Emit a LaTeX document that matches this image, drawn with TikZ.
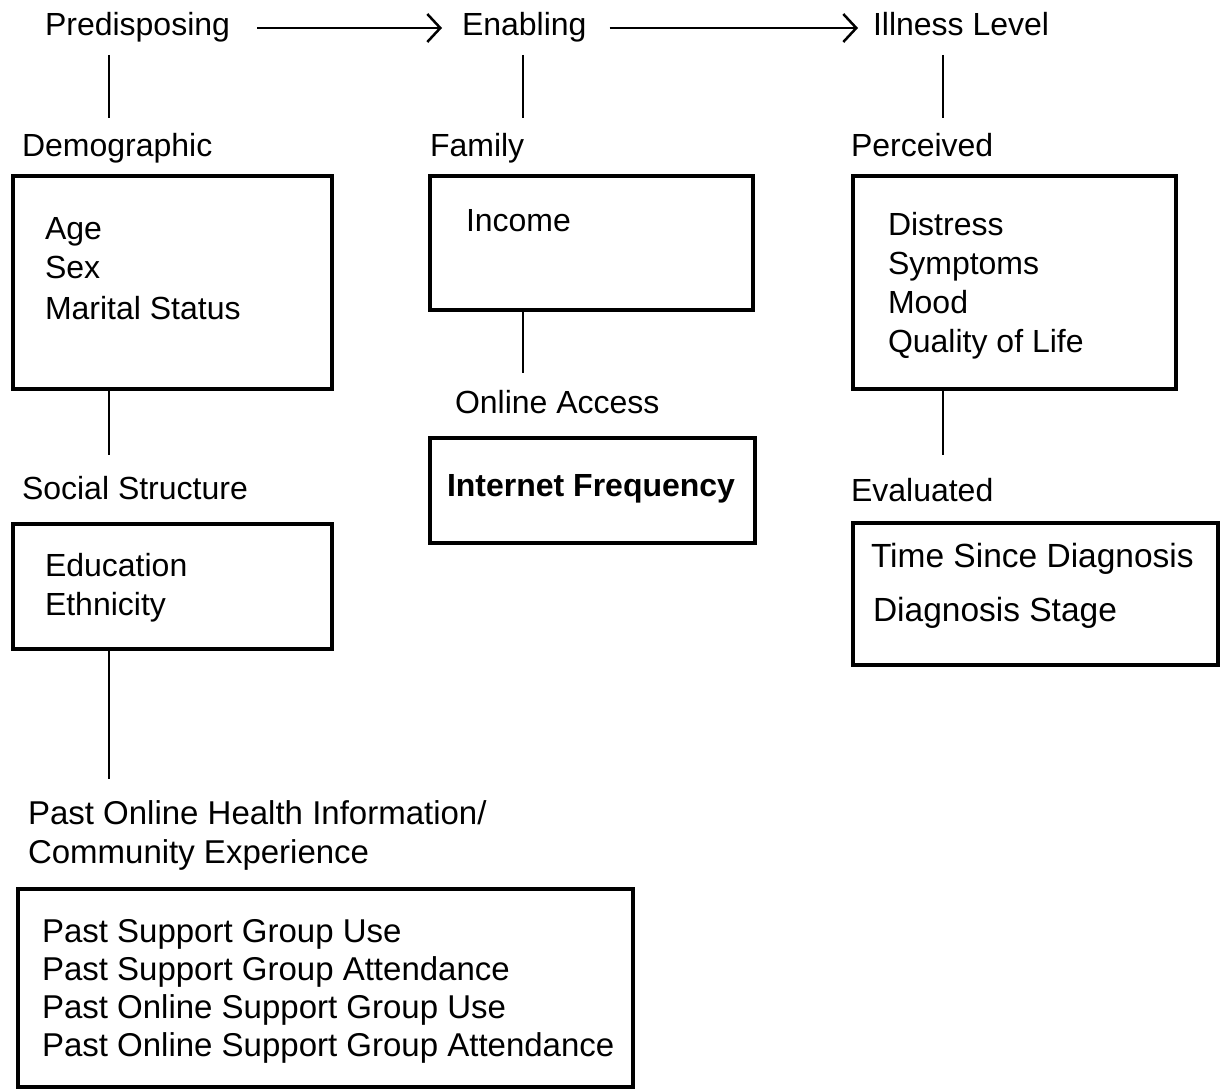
\documentclass[tikz,border=0pt]{standalone}
\usepackage{fontspec}
\setmainfont{Liberation Sans}
\usetikzlibrary{arrows.meta}
\begin{document}
\begin{tikzpicture}[x=1pt,y=-1pt,
  lbl/.style={anchor=base west,inner sep=0pt,outer sep=0pt,text height=23pt,text depth=7pt,
    font=\fontsize{32}{40}\selectfont},
  blk/.style={anchor=north west,inner sep=0pt,outer sep=0pt,align=left},
  box/.style={draw=black,line width=4pt,anchor=north west,inner sep=0pt,outer sep=0pt},
  conn/.style={draw=black,line width=2.5pt},
  flow/.style={conn,-{Straight Barb[length=13pt,width=28pt,line width=2.5pt]}}
]
\useasboundingbox[fill=white] (0,0) rectangle (1228,1091);
% column x coordinates for connectors
\coordinate (cx1) at (109,0);
\coordinate (cx2) at (523,0);
\coordinate (cx3) at (943,0);
% top level
\node[lbl] (pred) at (45,36) {Predisposing};
\node[lbl] (enab) at (462,36) {Enabling};
\node[lbl] (ill) at (873,36) {Illness Level};
% second-level labels
\node[lbl] (demlab) at (22,157) {Demographic};
\node[lbl] (famlab) at (430,157) {Family};
\node[lbl] (perlab) at (851,157) {Perceived};
% boxes
\node[box,minimum width=319pt,minimum height=213pt] (demo) at (13,176) {};
\node[box,minimum width=323pt,minimum height=134pt] (fam) at (430,176) {};
\node[box,minimum width=323pt,minimum height=213pt] (perc) at (853,176) {};
\node[box,minimum width=319pt,minimum height=125pt] (soc) at (13,524) {};
\node[box,minimum width=325pt,minimum height=105pt] (inet) at (430,438) {};
\node[box,minimum width=365pt,minimum height=142pt] (eval) at (853,523) {};
\node[box,minimum width=615pt,minimum height=198pt] (past) at (18,889) {};
% box contents
\node[blk,font=\fontsize{32}{40}\selectfont] (demotxt) at (45,215) {\rule{0pt}{24pt}Age\\Sex\\Marital Status};
\node[lbl] (income) at (466,232) {Income};
\node[blk,font=\fontsize{32}{39}\selectfont] (perctxt) at (888,211) {\rule{0pt}{24pt}Distress\\Symptoms\\Mood\\Quality of Life};
\node[lbl] (oalab) at (455,413) {Online Access};
\node[lbl,font=\fontsize{32}{40}\selectfont\bfseries] (inettxt) at (447,496) {Internet Frequency};
\node[lbl] (soclab) at (22,499) {Social Structure};
\node[lbl] (evallab) at (851,501) {Evaluated};
\node[blk,font=\fontsize{32}{39}\selectfont] (soctxt) at (45,552) {\rule{0pt}{24pt}Education\\Ethnicity};
\node[lbl,font=\fontsize{33.5}{40}\selectfont] (evaltxt1) at (871,567) {Time Since Diagnosis};
\node[lbl,font=\fontsize{33.5}{40}\selectfont] (evaltxt2) at (873,621) {Diagnosis Stage};
\node[blk,font=\fontsize{33}{39}\selectfont] (pastlab) at (28,800) {\rule{0pt}{24pt}Past Online Health Information/\\Community Experience};
\node[blk,font=\fontsize{33}{38}\selectfont] (pasttxt) at (42,918) {\rule{0pt}{24pt}Past Support Group Use\\Past Support Group Attendance\\Past Online Support Group Use\\Past Online Support Group Attendance};
% flow arrows
\draw[flow,shorten <=27pt,shorten >=20pt] (pred.east) -- (enab.west);
\draw[flow,shorten <=23pt,shorten >=15pt] (enab.east) -- (ill.west);
% vertical connectors
\draw[conn,shorten <=12pt,shorten >=16pt] (pred.south -| cx1) -- (demlab.north -| cx1);
\draw[conn,shorten <=12pt,shorten >=16pt] (enab.south -| cx2) -- (famlab.north -| cx2);
\draw[conn,shorten <=12pt,shorten >=16pt] (ill.south -| cx3) -- (perlab.north -| cx3);
\draw[conn,shorten >=21pt] (demo.south -| cx1) -- (soclab.north -| cx1);
\draw[conn,shorten >=21pt] (soc.south -| cx1) -- (pastlab.north -| cx1);
\draw[conn,shorten >=17pt] (fam.south -| cx2) -- (oalab.north -| cx2);
\draw[conn,shorten >=23pt] (perc.south -| cx3) -- (evallab.north -| cx3);
\end{tikzpicture}
\end{document}
